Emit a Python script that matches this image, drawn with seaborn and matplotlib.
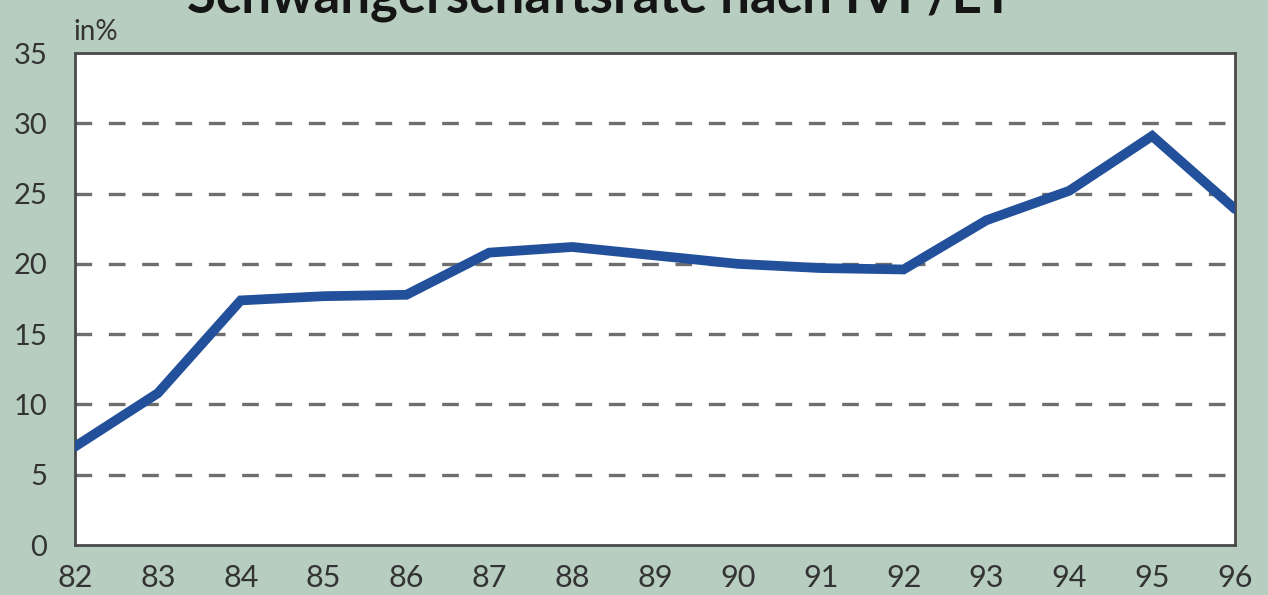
import matplotlib.pyplot as plt
import seaborn as sns
import pandas as pd

# Schwangerschaftsrate nach IVF/ET, 1982-1996
years = [82, 83, 84, 85, 86, 87, 88, 89, 90, 91, 92, 93, 94, 95, 96]
rate = [7.0, 10.8, 17.4, 17.7, 17.8, 20.8, 21.2, 20.6, 20.0, 19.7, 19.6, 23.1, 25.2, 29.1, 23.9]
yticks = [0, 5, 10, 15, 20, 25, 30, 35]

sns.set_theme(style='white')
plt.rcParams['font.family'] = ['Lato', 'DejaVu Sans']

bg = '#b7cdc0'
df = pd.DataFrame({'jahr': years, 'rate': rate})

fig = plt.figure(figsize=(12.68, 5.95), dpi=100, facecolor=bg)
ax = fig.add_axes([75 / 1268, 1 - 545 / 595, 1160 / 1268, 492 / 595])
ax.set_facecolor('white')

# dashed grid, only between the frame lines
for y in yticks[1:-1]:
    ax.axhline(y, color='#6e6e6e', lw=2.4, ls=(0, (5, 5)), zorder=1)

sns.lineplot(data=df, x='jahr', y='rate', ax=ax, color='#23509b',
             lw=7, solid_joinstyle='miter', zorder=3)

ax.set_xlim(82, 96)
ax.set_ylim(0, 35)
ax.set_xticks(years)
ax.set_xticklabels([str(y) for y in years])
ax.set_yticks(yticks)
ax.set_xlabel('')
ax.set_ylabel('')
ax.tick_params(axis='both', length=0, labelcolor='#333333')
ax.tick_params(axis='x', labelsize=22, pad=14)
ax.tick_params(axis='y', labelsize=21, pad=20)

for s in ax.spines.values():
    s.set_color('#4a4a4a')
    s.set_linewidth(2)

fig.text(73 / 1268, 1 - 40 / 595, 'in%', fontsize=20, color='#333333',
         ha='left', va='baseline')
fig.text(600 / 1268, 1 - 12 / 595, 'Schwangerschaftsrate nach IVF/ET',
         fontsize=38, fontweight='bold', color='#151515',
         ha='center', va='baseline')

fig.savefig('out.png', dpi=100, facecolor=bg)
